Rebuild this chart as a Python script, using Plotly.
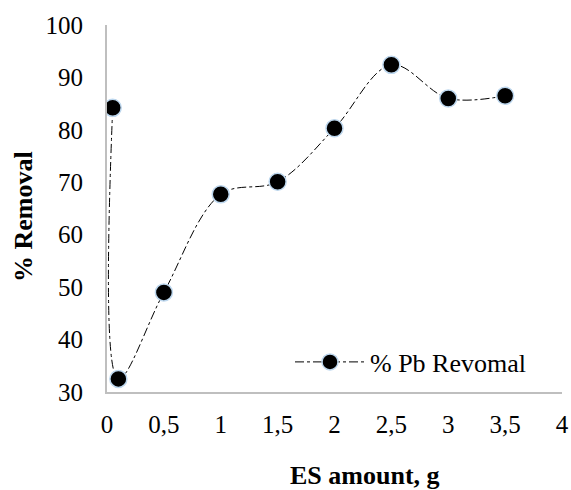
import plotly.graph_objects as go

es_amount = [0.05, 0.1, 0.5, 1.0, 1.5, 2.0, 2.5, 3.0, 3.5]
pb_removal = [84.2, 32.5, 49.0, 67.7, 70.1, 80.3, 92.4, 86.0, 86.5]
x_ticks = [0, 0.5, 1, 1.5, 2, 2.5, 3, 3.5, 4]
x_tick_labels = ["0", "0,5", "1", "1,5", "2", "2,5", "3", "3,5", "4"]
y_ticks = [30, 40, 50, 60, 70, 80, 90, 100]
series_name = "% Pb Revomal"
x_title = "ES amount, g"
y_title = "% Removal"

font_family = "Liberation Serif, Times New Roman, serif"

W, H = 571, 490
L, R, T, B = 107, 9, 25, 98
pw, ph = W - L - R, H - T - B

fig = go.Figure()
fig.add_trace(go.Scatter(
    x=es_amount, y=pb_removal, name=series_name,
    mode="lines+markers",
    line=dict(color="black", width=1, dash="dashdot", shape="spline", smoothing=1.0),
    marker=dict(size=17, color="black", line=dict(color="#bdd7ee", width=1.5)),
))

fig.update_layout(
    width=W, height=H,
    margin=dict(l=L, r=R, t=T, b=B, autoexpand=False),
    paper_bgcolor="white", plot_bgcolor="white",
    font=dict(family=font_family, size=25, color="black"),
    showlegend=True,
    legend=dict(x=(290 - L) / pw, y=(T + ph - 362) / ph, xanchor="left", yanchor="middle",
                bgcolor="rgba(0,0,0,0)", font=dict(size=26), itemwidth=70),
    xaxis=dict(
        range=[0, 4], tickvals=x_ticks, ticktext=x_tick_labels,
        showgrid=False, zeroline=False, showline=True, linecolor="#bfbfbf", linewidth=2,
        ticks="", ticklabelstandoff=9, automargin=False,
    ),
    yaxis=dict(
        range=[30, 100], tickvals=y_ticks,
        showgrid=False, zeroline=False, showline=True, linecolor="#bfbfbf", linewidth=2,
        ticks="", ticklabelstandoff=17, automargin=False,
    ),
    annotations=[
        dict(text="<b>" + x_title + "</b>", xref="paper", yref="paper",
             x=(365 - L) / pw, y=(T + ph - 475) / ph, xanchor="center", yanchor="middle",
             showarrow=False, font=dict(size=26)),
        dict(text="<b>" + y_title + "</b>", xref="paper", yref="paper",
             x=(24 - L) / pw, y=(T + ph - 217) / ph, xanchor="center", yanchor="middle",
             textangle=-90, showarrow=False, font=dict(size=26)),
    ],
)

fig.write_html(
    "out.html",
    config={"displayModeBar": False},
    post_script="document.body.style.margin='0';document.body.style.overflow='hidden';",
)
